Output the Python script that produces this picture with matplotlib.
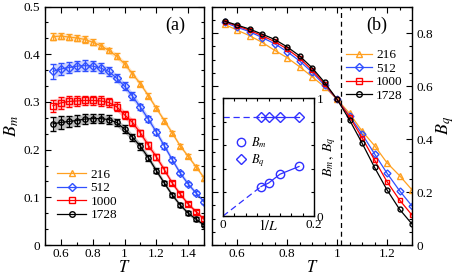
import numpy as np
import matplotlib
matplotlib.use("Agg")
import matplotlib.pyplot as plt
from matplotlib.ticker import MultipleLocator
from matplotlib.lines import Line2D

plt.rcParams['font.family'] = ['Liberation Serif', 'DejaVu Serif']
plt.rcParams['mathtext.fontset'] = 'stix'

sizes = ["216", "512", "1000", "1728"]
colors = ["#ffa020", "#3050ff", "#ff0000", "#000000"]
markers = ["^", "D", "s", "o"]

# panel (a): B_m vs T
T_a = [0.55, 0.60, 0.65, 0.70, 0.75, 0.80, 0.85, 0.90, 0.95, 1.00,
       1.05, 1.10, 1.15, 1.20, 1.25, 1.30, 1.35, 1.40, 1.45, 1.50]
Bm = {
    "216":  [0.437, 0.438, 0.436, 0.434, 0.431, 0.425, 0.418, 0.408, 0.396, 0.380,
             0.359, 0.338, 0.313, 0.287, 0.261, 0.235, 0.208, 0.186, 0.164, 0.141],
    "512":  [0.364, 0.369, 0.372, 0.375, 0.376, 0.375, 0.371, 0.364, 0.350, 0.333,
             0.312, 0.289, 0.264, 0.237, 0.208, 0.179, 0.151, 0.128, 0.109, 0.091],
    "1000": [0.292, 0.298, 0.301, 0.302, 0.303, 0.303, 0.302, 0.299, 0.290, 0.273,
             0.257, 0.235, 0.209, 0.185, 0.158, 0.130, 0.107, 0.086, 0.070, 0.054],
    "1728": [0.254, 0.257, 0.259, 0.261, 0.264, 0.265, 0.265, 0.263, 0.257, 0.243,
             0.226, 0.207, 0.183, 0.156, 0.130, 0.105, 0.084, 0.067, 0.054, 0.042],
}
Bm_err = {
    "216":  [0.008, 0.007, 0.007, 0.007, 0.007, 0.006, 0.006, 0.006, 0.006, 0.006,
             0.006, 0.005, 0.005, 0.005, 0.005, 0.005, 0.004, 0.004, 0.004, 0.004],
    "512":  [0.016, 0.012, 0.012, 0.011, 0.011, 0.010, 0.010, 0.009, 0.009, 0.008,
             0.008, 0.007, 0.007, 0.006, 0.006, 0.005, 0.005, 0.005, 0.004, 0.004],
    "1000": [0.013, 0.012, 0.011, 0.011, 0.010, 0.010, 0.010, 0.009, 0.009, 0.008,
             0.008, 0.007, 0.007, 0.006, 0.006, 0.005, 0.005, 0.004, 0.004, 0.004],
    "1728": [0.014, 0.013, 0.012, 0.011, 0.010, 0.010, 0.009, 0.009, 0.008, 0.008,
             0.007, 0.007, 0.006, 0.006, 0.005, 0.005, 0.004, 0.004, 0.004, 0.003],
}

# panel (b): B_q vs T
T_b = [0.55, 0.60, 0.65, 0.70, 0.75, 0.80, 0.85, 0.90, 0.95, 1.00,
       1.05, 1.10, 1.15, 1.20, 1.25, 1.30]
Bq = {
    "216":  [0.833, 0.811, 0.790, 0.765, 0.735, 0.707, 0.673, 0.635, 0.597, 0.550,
             0.497, 0.430, 0.375, 0.310, 0.262, 0.208],
    "512":  [0.840, 0.822, 0.805, 0.783, 0.760, 0.730, 0.695, 0.652, 0.603, 0.550,
             0.487, 0.419, 0.344, 0.271, 0.205, 0.147],
    "1000": [0.843, 0.827, 0.810, 0.790, 0.768, 0.740, 0.705, 0.660, 0.608, 0.550,
             0.484, 0.405, 0.321, 0.239, 0.170, 0.113],
    "1728": [0.845, 0.830, 0.815, 0.796, 0.776, 0.748, 0.714, 0.669, 0.614, 0.550,
             0.472, 0.385, 0.293, 0.208, 0.135, 0.079],
}
Tc = 1.015

# inset: values at Tc vs 1/L
invL = [1 / 12, 1 / 10, 1 / 8, 1 / 6]
Bm_c = [0.25, 0.28, 0.355, 0.42]
Bq_c = [0.84, 0.84, 0.84, 0.84]

fig = plt.figure(figsize=(4.58, 2.77), dpi=100)
axa = fig.add_axes([0.0983, 0.1155, 0.3471, 0.861])
axb = fig.add_axes([0.4629, 0.1155, 0.4367, 0.861])


def style(ax):
    ax.tick_params(which='both', direction='in', top=True, right=True, labelsize=9.5)
    ax.tick_params(which='major', length=4, width=0.8)
    ax.tick_params(which='minor', length=2, width=0.8)
    ax.tick_params(axis='x', pad=2)
    for s in ax.spines.values():
        s.set_linewidth(1.0)


# ---- panel (a)
for s, c, m in zip(sizes, colors, markers):
    y = np.array(Bm[s])
    e = np.array(Bm_err[s])
    axa.fill_between(T_a, y - e, y + e, color=c, alpha=0.25, lw=0)
    axa.errorbar(T_a, y, yerr=e, color=c, marker=m, ms=3.8, mfc='none', mew=1.0,
                 lw=0.9, capsize=2, elinewidth=0.8, label=s)
axa.set_xlim(0.5, 1.5)
axa.set_ylim(0, 0.5)
axa.xaxis.set_minor_locator(MultipleLocator(0.1))
axa.yaxis.set_minor_locator(MultipleLocator(0.1 / 3))
axa.set_xticks([0.6, 0.8, 1.0, 1.2, 1.4])
axa.set_xticklabels(["0.6", "0.8", "1", "1.2", "1.4"])
axa.set_yticks([0, 0.1, 0.2, 0.3, 0.4, 0.5])
axa.set_yticklabels(["0", "0.1", "0.2", "0.3", "0.4", "0.5"])
style(axa)
axa.set_xlabel(r"$T$", fontsize=12, labelpad=0)
axa.set_ylabel(r"$B_m$", fontsize=13, labelpad=2)
axa.text(0.82, 0.92, "(a)", transform=axa.transAxes, fontsize=13, ha='center', va='center')
handles = [Line2D([], [], color=c, marker=m, ms=4, mfc='none', mew=1.0, lw=0.9)
           for c, m in zip(colors, markers)]
axa.legend(handles, sizes, loc='lower left', bbox_to_anchor=(0.02, 0.06), frameon=False,
           fontsize=9.5, handlelength=2.2, handletextpad=0.3, labelspacing=0.1,
           borderpad=0.2)

# ---- panel (b)
for s, c, m in zip(sizes, colors, markers):
    axb.plot(T_b, Bq[s], color=c, marker=m, ms=4 if m == "^" else 3.5, mfc='none', mew=1.0,
             lw=0.9, label=s)
axb.axvline(Tc, color='k', ls=(0, (4, 3)), lw=0.9)
axb.set_xlim(0.5, 1.3)
axb.set_ylim(0, 0.9)
axb.set_xticks([0.6, 0.8, 1.0, 1.2])
axb.set_xticklabels(["0.6", "0.8", "1", "1.2"])
axb.xaxis.set_minor_locator(MultipleLocator(0.05))
axb.set_yticks([0, 0.2, 0.4, 0.6, 0.8])
axb.set_yticklabels(["0", "0.2", "0.4", "0.6", "0.8"])
axb.yaxis.set_minor_locator(MultipleLocator(0.05))
style(axb)
axb.tick_params(which='both', labelleft=False, labelright=True)
axb.yaxis.set_label_position('right')
axb.set_xlabel(r"$T$", fontsize=12, labelpad=0)
axb.set_ylabel(r"$B_q$", fontsize=13, labelpad=1)
axb.text(0.825, 0.92, "(b)", transform=axb.transAxes, fontsize=13, ha='center', va='center')
handles = [Line2D([], [], color=c, marker=m, ms=5 if m == "^" else 4, mfc='none', mew=1.0, lw=0.9)
           for c, m in zip(colors, markers)]
axb.legend(handles, sizes, loc='upper right', bbox_to_anchor=(1.0, 0.86), frameon=False,
           fontsize=9.5, handlelength=2.0, handletextpad=0.3, labelspacing=0.1,
           borderpad=0.2)

# ---- inset
axi = fig.add_axes([0.487, 0.220, 0.199, 0.426])
ic = "#3030ff"
axi.plot([0, invL[0]], [0, Bm_c[0]], color=ic, ls=(0, (5, 3)), lw=0.9)
axi.plot(invL, Bm_c, color=ic, marker='o', ms=6, mfc='none', mew=1.0, lw=0.9)
axi.plot([0, invL[0]], [Bq_c[0], Bq_c[0]], color=ic, ls=(0, (5, 3)), lw=0.9)
axi.plot(invL, Bq_c, color=ic, marker='D', ms=5.5, mfc='none', mew=1.0, lw=0.9)
axi.set_xlim(0, 0.2)
axi.set_ylim(0, 1)
axi.set_xticks([0, 0.2])
axi.set_xticklabels(["0", "0.2"])
axi.xaxis.set_minor_locator(MultipleLocator(0.025))
axi.set_yticks([0, 1])
axi.set_yticklabels(["0", "1"])
axi.yaxis.set_minor_locator(MultipleLocator(0.2))
style(axi)
axi.tick_params(which='both', labelleft=False, labelright=True, labelsize=9.5)
axi.tick_params(axis='y', pad=2)
axi.yaxis.set_label_position('right')
axi.set_xlabel(r"$1/L$", fontsize=10, labelpad=-9)
axi.set_ylabel(r"$B_m\,,\,B_q$", fontsize=10, labelpad=-2)
ih = [Line2D([], [], color=ic, marker='o', ms=6, mfc='none', mew=1.0, lw=0),
      Line2D([], [], color=ic, marker='D', ms=5.5, mfc='none', mew=1.0, lw=0)]
axi.legend(ih, [r"$B_m$", r"$B_q$"], loc='upper left', bbox_to_anchor=(0.05, 0.75),
           frameon=False, fontsize=9, handlelength=1.0, handletextpad=0.3,
           labelspacing=0.2, borderpad=0.1)

fig.savefig("out.png", dpi=100)
